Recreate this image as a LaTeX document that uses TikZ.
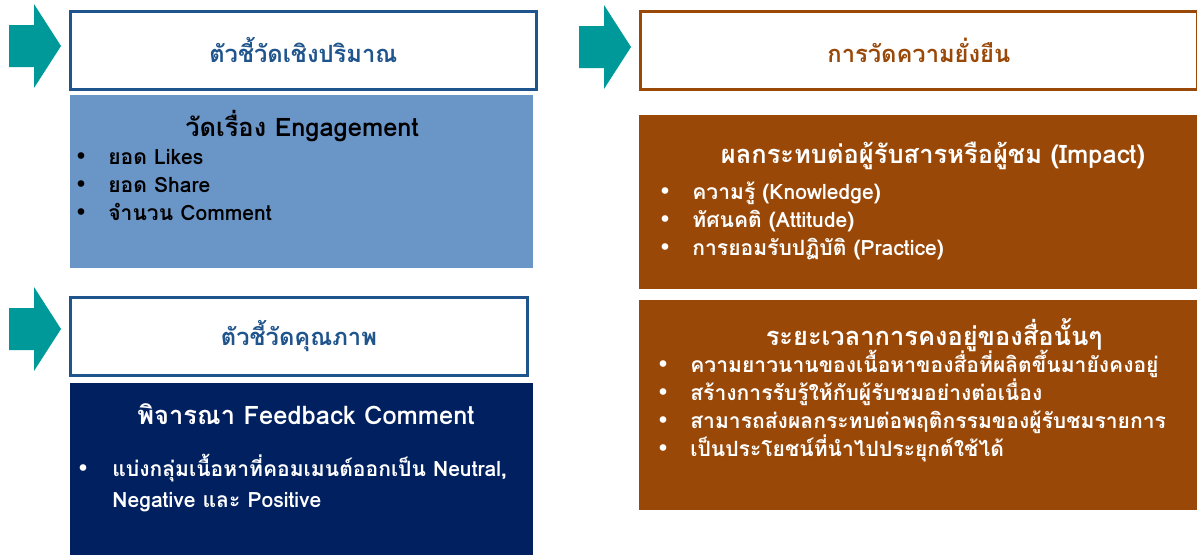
\documentclass[tikz,border=0pt]{standalone}
\usepackage{fontspec}
\setmainfont{Loma}[Script=Thai]
\newfontfamily\dotfont{DejaVu Sans}
\usetikzlibrary{positioning}
\definecolor{kpTeal}  {RGB}{  0,153,153}
\definecolor{kpBlue}  {RGB}{ 31, 84,140}
\definecolor{kpBlueL} {RGB}{106,149,199}
\definecolor{kpNavy}  {RGB}{  0, 32, 96}
\definecolor{kpBrown} {RGB}{153, 72,  7}

\begin{document}
\begin{tikzpicture}[
  x=0.02cm,y=-0.02cm,
  headbox/.style={rectangle,draw,line width=1.6pt,fill=white,
                  anchor=north west,inner sep=0pt,
                  font=\fontsize{13.5}{16}\selectfont\bfseries},
  bodybox/.style={rectangle,anchor=north west,inner sep=0pt},
  heading/.style={anchor=base,inner sep=0pt,
                  font=\fontsize{14.5}{16}\selectfont\bfseries},
  item/.style={anchor=base west,inner sep=0pt,
               font=\fontsize{12}{14}\selectfont\bfseries},
  dot/.style={anchor=base west,inner sep=0pt,
              font=\dotfont\fontsize{13}{14}\selectfont}
]
\useasboundingbox (0,0) rectangle (1197,555);

% teal arrow, tip at (#1,#2)
\def\pointer#1#2{%
  \fill[kpTeal] (#1-52,#2-21) -- (#1-27,#2-21) -- (#1-27,#2-42) -- (#1,#2)
     -- (#1-27,#2+42) -- (#1-27,#2+21) -- (#1-52,#2+21) -- cycle;}

% --- Column A: quantity
\pointer{61}{46}
\node[headbox,draw=kpBlue,text=kpBlue,minimum width=9.32cm,minimum height=1.56cm]
     (qtyHead) at (69,10) {ตัวชี้วัดเชิงปริมาณ};
\node[bodybox,fill=kpBlueL,minimum width=9.26cm,minimum height=3.46cm]
     (qtyBody) at (70,95) {};
\node[heading] (qtyTitle) at (302,136) {วัดเรื่อง Engagement};
\node[dot] at (74,164) {•};
\node[item] (qty1) at (108,164) {ยอด Likes};
\node[dot] at (74,192) {•};
\node[item] (qty2) at (108,192) {ยอด Share};
\node[dot] at (74,220) {•};
\node[item] (qty3) at (108,220) {จำนวน Comment};

% --- Column A: quality
\pointer{61}{329}
\node[headbox,draw=kpBlue,text=kpBlue,minimum width=9.14cm,minimum height=1.56cm]
     (qualHead) at (69,296) {ตัวชี้วัดคุณภาพ};
\node[bodybox,fill=kpNavy,minimum width=9.26cm,minimum height=3.44cm]
     (qualBody) at (70,383) {};
\node[heading,text=white] (qualTitle) at (306,424) {พิจารณา Feedback Comment};
\node[dot,text=white] at (76,476) {•};
\node[item,text=white] (qual1) at (112,476) {แบ่งกลุ่มเนื้อหาที่คอมเมนต์ออกเป็น Neutral,};
\node[item,text=white] (qual2) at (112,507) {Negative และ Positive};

% --- Column B: sustainability
\pointer{631}{47}
\node[headbox,draw=kpBrown,text=kpBrown,minimum width=11.14cm,minimum height=1.56cm]
     (susHead) at (639,10) {การวัดความยั่งยืน};
\node[bodybox,fill=kpBrown,minimum width=11.16cm,minimum height=3.48cm]
     (impBody) at (639,115) {};
\node[heading,text=white] (impTitle) at (933,163) {ผลกระทบต่อผู้รับสารหรือผู้ชม (Impact)};
\node[dot,text=white] at (658,199) {•};
\node[item,text=white] (imp1) at (692,199) {ความรู้ (Knowledge)};
\node[dot,text=white] at (658,227) {•};
\node[item,text=white] (imp2) at (692,227) {ทัศนคติ (Attitude)};
\node[dot,text=white] at (658,255) {•};
\node[item,text=white] (imp3) at (692,255) {การยอมรับปฏิบัติ (Practice)};

\node[bodybox,fill=kpBrown,minimum width=11.16cm,minimum height=4.2cm]
     (durBody) at (639,300) {};
\node[heading,text=white] (durTitle) at (934,345) {ระยะเวลาการคงอยู่ของสื่อนั้นๆ};
\node[dot,text=white] at (656,372) {•};
\node[item,text=white] (dur1) at (690,372) {ความยาวนานของเนื้อหาของสื่อที่ผลิตขึ้นมายังคงอยู่};
\node[dot,text=white] at (656,400) {•};
\node[item,text=white] (dur2) at (690,400) {สร้างการรับรู้ให้กับผู้รับชมอย่างต่อเนื่อง};
\node[dot,text=white] at (656,428) {•};
\node[item,text=white] (dur3) at (690,428) {สามารถส่งผลกระทบต่อพฤติกรรมของผู้รับชมรายการ};
\node[dot,text=white] at (656,456) {•};
\node[item,text=white] (dur4) at (690,456) {เป็นประโยชน์ที่นำไปประยุกต์ใช้ได้};
\end{tikzpicture}
\end{document}
